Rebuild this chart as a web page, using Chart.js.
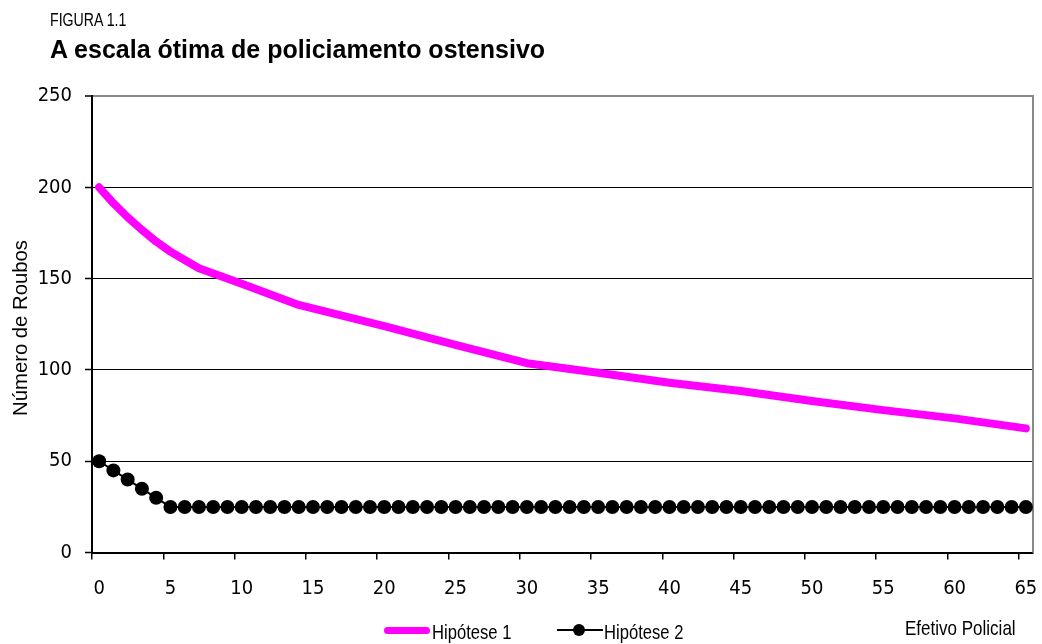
<!DOCTYPE html>
<html>
<head>
<meta charset="utf-8">
<script src="https://cdn.jsdelivr.net/npm/chart.js@4.4.1/dist/chart.umd.min.js"></script>
<style>
  html, body { margin: 0; padding: 0; background: #fff; }
  body { width: 1042px; height: 644px; position: relative; overflow: hidden; font-family: 'Liberation Sans', Arial, sans-serif; color: #000; }
  #wrap { position: absolute; left: 0; top: 0; width: 1042px; height: 644px; }
  .t { position: absolute; white-space: nowrap; }
  .nar { transform: scaleX(0.81); transform-origin: 0 50%; }
  #fig { left: 50px; top: 11.9px; font-size: 17.5px; line-height: 17.5px; }
  #title { left: 50px; top: 36.8px; font-weight: bold; font-size: 25px; line-height: 25px; }
  #ytitle { left: -130px; top: 318px; width: 300px; height: 20px; text-align: center; font-size: 20.3px; line-height: 20px; transform: rotate(-90deg); transform-origin: 150px 10px; }
  #xtitle { left: 905px; top: 617.2px; font-size: 21px; line-height: 21px; }
  .lg { top: 622px; font-size: 20.5px; line-height: 20px; }
  #sw1 { position: absolute; left: 384px; top: 626.5px; width: 46px; height: 7px; border-radius: 3.5px; background: #ff00ff; }
  #sw2 { position: absolute; left: 557px; top: 629px; width: 46px; height: 2px; background: #000; }
  #sw2d { position: absolute; left: 573px; top: 624px; width: 12px; height: 12px; border-radius: 6px; background: #000; }
</style>
</head>
<body>
<div id="wrap"><canvas id="c" width="1042" height="644"></canvas></div>
<div class="t nar" id="fig">FIGURA 1.1</div>
<div class="t" id="title">A escala ótima de policiamento ostensivo</div>
<div class="t" id="ytitle">Número de Roubos</div>
<div class="t nar" id="xtitle">Efetivo Policial</div>
<div id="sw1"></div><div class="t lg nar" style="left:432px">Hipótese 1</div>
<div id="sw2"></div><div id="sw2d"></div><div class="t lg nar" style="left:604px">Hipótese 2</div>
<script>
// Categories (Efetivo Policial)
const categories = [0,1,2,3,4,5,6,7,8,9,10,11,12,13,14,15,16,17,18,19,20,21,22,23,24,25,26,27,28,29,30,31,32,33,34,35,36,37,38,39,40,41,42,43,44,45,46,47,48,49,50,51,52,53,54,55,56,57,58,59,60,61,62,63,64,65];

// Hipótese 1 (at these x positions)
const h1X = [0, 1, 2, 3, 4, 5, 6, 7, 10, 14, 20, 25, 30, 35, 40, 45, 50, 55, 60, 65];
const h1Y = [200, 191.3, 183.6, 176.7, 170.3, 164.8, 160.2, 155.7, 147.2, 135.6, 124, 113.7, 103.7, 98.5, 93, 88.5, 83, 78, 73.5, 68];

// Hipótese 2 (one marker per category)
const h2Y = [50,45,40,35,30,25,25,25,25,25,25,25,25,25,25,25,25,25,25,25,25,25,25,25,25,25,25,25,25,25,25,25,25,25,25,25,25,25,25,25,25,25,25,25,25,25,25,25,25,25,25,25,25,25,25,25,25,25,25,25,25,25,25,25,25,25];

// Y ticks
const yMin = 0, yMax = 250, yStep = 50;

const seriesNames = ['Hipótese 1', 'Hipótese 2'];

const NARROW = "'DejaVu Sans Condensed', 'Liberation Sans Narrow', sans-serif";

const frameRight = {
  id: 'frameRight',
  beforeDatasetsDraw(chart) {
    const { ctx, chartArea: a } = chart;
    ctx.save();
    ctx.strokeStyle = '#888';
    ctx.lineWidth = 2;
    ctx.beginPath();
    ctx.moveTo(a.right, a.top - 1);
    ctx.lineTo(a.right, a.bottom);
    ctx.stroke();
    ctx.restore();
  }
};

new Chart(document.getElementById('c'), {
  type: 'line',
  data: {
    labels: categories,
    datasets: [
      {
        label: seriesNames[0],
        data: h1X.map((x, i) => ({ x: x, y: h1Y[i] })),
        borderColor: '#ff00ff',
        backgroundColor: '#ff00ff',
        borderWidth: 8,
        borderCapStyle: 'round',
        borderJoinStyle: 'round',
        pointRadius: 0,
        tension: 0,
        clip: false
      },
      {
        label: seriesNames[1],
        data: h2Y,
        borderColor: '#000',
        backgroundColor: '#000',
        borderWidth: 2,
        pointRadius: 7,
        pointBorderWidth: 0,
        pointBackgroundColor: '#000',
        tension: 0,
        clip: false
      }
    ]
  },
  options: {
    responsive: false,
    devicePixelRatio: 1,
    animation: false,
    layout: { padding: { top: 96, right: 9, left: 0, bottom: 0 } },
    plugins: { legend: { display: false }, tooltip: { enabled: false }, title: { display: false } },
    scales: {
      x: {
        type: 'category',
        offset: true,
        border: { display: true, color: '#000', width: 2 },
        grid: {
          offset: true,
          drawOnChartArea: false,
          drawTicks: true,
          tickLength: 7,
          lineWidth: 1.5,
          color: (ctx) => (ctx.index % 5 === 0 ? '#000' : 'rgba(0,0,0,0)')
        },
        ticks: {
          autoSkip: false,
          maxRotation: 0,
          minRotation: 0,
          padding: 17,
          color: '#000',
          font: { family: NARROW, size: 20 },
          callback: (value, index) => (categories[index] % 5 === 0 ? String(categories[index]) : '')
        },
        afterFit: (s) => { s.height = 91.4; s.paddingLeft = 0; s.paddingRight = 0; }
      },
      y: {
        min: yMin,
        max: yMax,
        border: { display: true, color: '#000', width: 2 },
        grid: {
          drawTicks: true,
          tickLength: 7,
          tickColor: '#000',
          tickWidth: 1.5,
          color: (ctx) => (ctx.tick && ctx.tick.value === yMax ? '#888' : '#000'),
          lineWidth: (ctx) => (ctx.tick && ctx.tick.value === yMax ? 2 : 1)
        },
        ticks: {
          stepSize: yStep,
          padding: 13,
          color: '#000',
          font: { family: NARROW, size: 20 }
        },
        afterFit: (s) => { s.width = 92; }
      }
    }
  },
  plugins: [frameRight]
});
</script>
</body>
</html>
